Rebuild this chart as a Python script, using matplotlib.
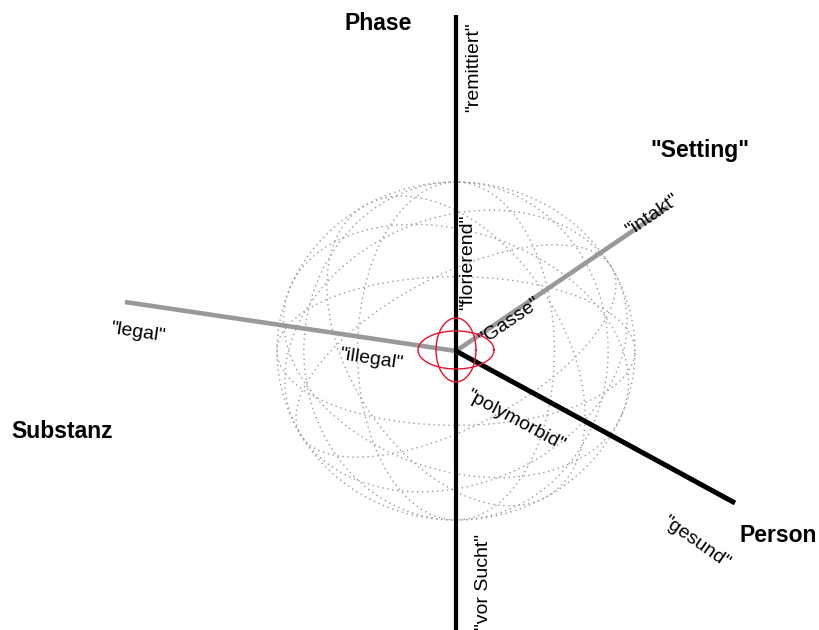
import numpy as np
import matplotlib
matplotlib.use("Agg")
import matplotlib.pyplot as plt

plt.rcParams['font.family'] = ['Liberation Sans', 'DejaVu Sans']

W, H = 819, 630
# Diagram geometry (pixel coordinates, y downward)
center = (456, 351)
phase_axis = [(456, 15), (456, 632)]
person_axis = [(456, 351), (735, 503)]
substanz_axis = [(125, 302), (456, 351)]
setting_axis = [(456, 351), (668, 207)]

# sphere wireframe: (in-plane angle of major axis in degrees, minor/major ratio)
sphere_R = 179
sphere_aspect = 0.944
wire = [(0, 1.0), (90, 0.55), (90, 0.85), (0, 0.44), (30, 0.44),
        (-22, 0.70), (28, 0.78), (-60, 0.60)]

# small red core ellipses: (rx, ry)
core = [(38, 19), (20, 32)]

# axis titles
titles = ["Phase", "Substanz", "Person", '"Setting"']
title_pos = [(378, 24), (62, 432), (778, 536), (700, 151)]

# value labels: text, position, rotation
labels = ['"remittiert"', '"florierend"', '"vor Sucht"',
          '"legal"', '"illegal"',
          '"polymorbid"', '"gesund"',
          '"Gasse"', '"intakt"']
label_pos = [(474, 67), (468, 262), (483, 582),
             (138, 333), (371, 359),
             (515, 421), (696, 542),
             (510, 321), (652, 215)]
label_rot = [90, 90, 90, -8.6, -8.6, -28.4, -35, 34.4, 34.4]

fig = plt.figure(figsize=(W / 100, H / 100), dpi=100)
ax = fig.add_axes([0, 0, 1, 1])
ax.set_xlim(0, W)
ax.set_ylim(H, 0)
ax.axis('off')

t = np.linspace(0, 2 * np.pi, 400)
for psi, k in wire:
    p = np.deg2rad(psi)
    ex = np.cos(t)
    ey = k * np.sin(t)
    x = ex * np.cos(p) - ey * np.sin(p)
    y = ex * np.sin(p) + ey * np.cos(p)
    ax.plot(center[0] + sphere_R * x, center[1] - sphere_R * sphere_aspect * y,
            color='#9a9a9a', lw=1.0, ls=(0, (1, 2.6)), zorder=1)

for rx, ry in core:
    ax.plot(center[0] + rx * np.cos(t), center[1] - 1 + ry * np.sin(t),
            color='#e8102a', lw=1.0, zorder=4)

def seg(pts, color, lw):
    xs, ys = zip(*pts)
    ax.plot(xs, ys, color=color, lw=lw, solid_capstyle='butt', zorder=3)

seg(substanz_axis, '#999999', 3.3)
seg(setting_axis, '#999999', 3.3)
seg(phase_axis, 'black', 3.0)
seg(person_axis, 'black', 3.6)

for txt, (x, y) in zip(titles, title_pos):
    ax.text(x, y, txt, fontsize=16.5, fontweight='bold', ha='center', va='center')

for txt, (x, y), r in zip(labels, label_pos, label_rot):
    ax.text(x, y, txt, fontsize=14, ha='center', va='center', rotation=r,
            rotation_mode='anchor')

fig.savefig('out.png', dpi=100)
